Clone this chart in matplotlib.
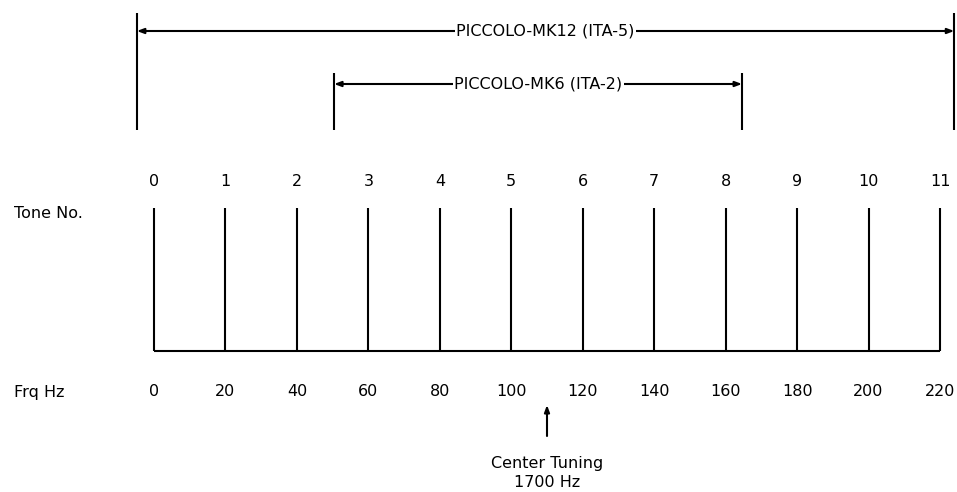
#!/usr/bin/env python3
"""
Piccolo tone plan: tone numbers vs. frequency offsets, with the
MK12 and MK6 bandwidth brackets and the centre tuning marker.
"""

import matplotlib.pyplot as plt

# tone numbers and their frequency offsets (Hz)
tones = list(range(12))
freqs = [0, 20, 40, 60, 80, 100, 120, 140, 160, 180, 200, 220]

# bracket spans, in tone units
mk12_label = "PICCOLO-MK12 (ITA-5)"
mk12_span = (-0.24, 11.2)
mk6_label = "PICCOLO-MK6 (ITA-2)"
mk6_span = (2.52, 8.23)

# centre tuning (frequency offset on the Frq Hz scale)
center_freq = 110
center_text = "Center Tuning\n1700 Hz"

HZ_PER_TONE = 20.0


def main():
    plt.rcParams['font.family'] = ['DejaVu Sans']
    fig = plt.figure(figsize=(9.57, 4.92), dpi=100)
    ax = fig.add_axes([0, 0, 1, 1])
    # x in tone units, y roughly in pixel rows (top = 0)
    px_per_tone = (940 - 154) / 11.0
    ax.set_xlim(-154 / px_per_tone, (957 - 154) / px_per_tone)
    ax.set_ylim(492, 0)
    ax.axis("off")

    lw = 1.5
    fs = 11.5

    # tone stems and baseline
    ax.vlines(tones, 208, 351, color="black", lw=lw)
    ax.hlines(351, tones[0], tones[-1], color="black", lw=lw)

    for t in tones:
        ax.text(t, 181, str(t), ha="center", va="center", fontsize=fs)
    for t, f in zip(tones, freqs):
        ax.text(t, 392, str(f), ha="center", va="center", fontsize=fs)

    x_lab = -140 / px_per_tone
    ax.text(x_lab, 213, "Tone No.", ha="left", va="center", fontsize=fs)
    ax.text(x_lab, 392, "Frq Hz", ha="left", va="center", fontsize=fs)

    # bandwidth brackets
    for label, span, top, y in [(mk12_label, mk12_span, 13, 31),
                                (mk6_label, mk6_span, 73, 84)]:
        ax.vlines(span, top, 130, color="black", lw=lw)
        ax.annotate("", xy=(span[0], y), xytext=(span[1], y),
                    arrowprops=dict(arrowstyle="<|-|>,head_length=0.4,head_width=0.15",
                                    color="black", lw=lw,
                                    shrinkA=0, shrinkB=0))
        ax.text((span[0] + span[1]) / 2, y, label, ha="center", va="center",
                fontsize=fs,
                bbox=dict(facecolor="white", edgecolor="none", pad=1.0))

    # centre tuning marker
    xc = center_freq / HZ_PER_TONE
    ax.annotate("", xy=(xc, 405), xytext=(xc, 436),
                arrowprops=dict(arrowstyle="-|>,head_length=0.4,head_width=0.15",
                                color="black", lw=lw, shrinkA=0, shrinkB=0))
    ax.text(xc, 473, center_text, ha="center", va="center", fontsize=fs,
            linespacing=1.4)

    fig.savefig("out.png", dpi=100, facecolor="white")


if __name__ == '__main__':
    main()
